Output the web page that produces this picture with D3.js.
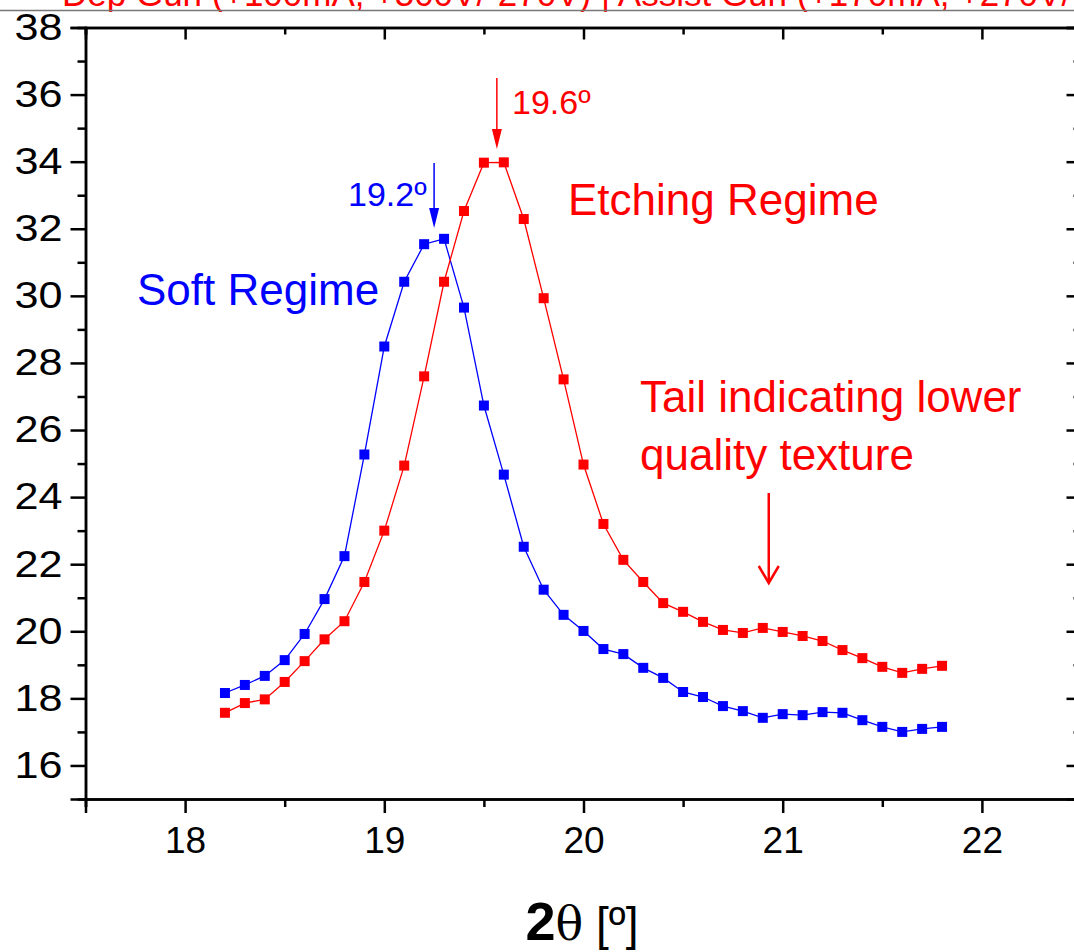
<!DOCTYPE html>
<html>
<head>
<meta charset="utf-8">
<script src="https://cdn.jsdelivr.net/npm/d3@7"></script>
<style>
  body { margin: 0; background: #fff; }
  text { font-family: "Liberation Sans", Arial, sans-serif; }
</style>
</head>
<body>
<svg id="chart" width="1074" height="952"></svg>
<script>
// 2-theta positions (deg)
const twoTheta = [18.2, 18.3, 18.4, 18.5, 18.6, 18.7, 18.8, 18.9, 19.0, 19.1,
  19.2, 19.3, 19.4, 19.5, 19.6, 19.7, 19.8, 19.9, 20.0, 20.1,
  20.2, 20.3, 20.4, 20.5, 20.6, 20.7, 20.8, 20.9, 21.0, 21.1,
  21.2, 21.3, 21.4, 21.5, 21.6, 21.7, 21.8];

// soft regime (blue)
const softVals = [18.16, 18.40, 18.67, 19.14, 19.92, 20.96, 22.24, 25.27, 28.49, 30.42,
  31.54, 31.70, 29.65, 26.73, 24.67, 22.52, 21.24, 20.49, 20.01, 19.47,
  19.32, 18.91, 18.61, 18.19, 18.04, 17.77, 17.62, 17.42, 17.53, 17.50,
  17.59, 17.57, 17.35, 17.15, 17.00, 17.09, 17.15];

// etching regime (red)
const etchVals = [17.57, 17.86, 17.97, 18.49, 19.11, 19.76, 20.30, 21.47, 23.00, 24.94,
  27.60, 30.42, 32.53, 33.97, 33.98, 32.29, 29.93, 27.51, 24.97, 23.20,
  22.13, 21.47, 20.84, 20.58, 20.28, 20.04, 19.95, 20.10, 19.98, 19.86,
  19.71, 19.44, 19.20, 18.94, 18.76, 18.88, 18.97];

const xTicks = [18, 19, 20, 21, 22];
const yTicks = [16, 18, 20, 22, 24, 26, 28, 30, 32, 34, 36, 38];

const svg = d3.select("#chart");

// plot frame
const x = d3.scaleLinear().domain([17.5, 22.5]).range([85.5, 1081.5]);
const y = d3.scaleLinear().domain([15, 38]).range([799, 27.5]);

// title strip (clipped at top of the figure)
svg.append("text")
  .attr("x", 62)
  .attr("y", 6)
  .attr("font-size", "35px")
  .attr("fill", "#ff0000")
  .text("Dep Gun (+100mA, +500V/-270V) | Assist Gun (+170mA, +270V/-270V)");

svg.append("line")
  .attr("x1", 0).attr("x2", 1074)
  .attr("y1", 10.5).attr("y2", 10.5)
  .attr("stroke", "#777")
  .attr("stroke-width", 1.5);

svg.append("rect")
  .attr("x", 0).attr("y", 12).attr("width", 1074).attr("height", 14)
  .attr("fill", "#fff");

// axes
const minorX = d3.range(17.5, 22.51, 0.5).filter(v => Math.abs(v % 1) > 0.1);
const minorY = d3.range(17, 38, 2);

function styleAxis(g) {
  g.select(".domain").attr("stroke-width", 2.5);
  g.selectAll(".tick line").attr("stroke-width", 2.5);
  g.selectAll(".tick text").attr("font-size", "37px").attr("fill", "#000")
    .style("font-family", "Liberation Sans, Arial, sans-serif");
}

// bottom
svg.append("g")
  .attr("transform", "translate(0," + y(15) + ")")
  .call(d3.axisBottom(x).tickValues(xTicks).tickSize(14).tickPadding(14).tickFormat(d3.format("d")))
  .call(styleAxis);
svg.append("g")
  .attr("transform", "translate(0," + y(15) + ")")
  .call(d3.axisBottom(x).tickValues(minorX).tickSize(8).tickFormat(""))
  .call(styleAxis);

// top
svg.append("g")
  .attr("transform", "translate(0," + y(38) + ")")
  .call(d3.axisTop(x).tickValues(xTicks).tickSize(-12).tickFormat(""))
  .call(styleAxis);
svg.append("g")
  .attr("transform", "translate(0," + y(38) + ")")
  .call(d3.axisTop(x).tickValues(minorX).tickSize(-7).tickFormat(""))
  .call(styleAxis);

// left
svg.append("g")
  .attr("transform", "translate(" + x(17.5) + ",0)")
  .call(d3.axisLeft(y).tickValues(yTicks).tickSize(15).tickPadding(8).tickFormat(d3.format("d")))
  .call(styleAxis)
  .call(g => g.selectAll(".tick text")
    .attr("textLength", 48)
    .attr("lengthAdjust", "spacingAndGlyphs"));
svg.append("g")
  .attr("transform", "translate(" + x(17.5) + ",0)")
  .call(d3.axisLeft(y).tickValues(minorY).tickSize(8).tickFormat(""))
  .call(styleAxis);

// right
svg.append("g")
  .attr("transform", "translate(" + x(22.5) + ",0)")
  .call(d3.axisRight(y).tickValues(yTicks).tickSize(-15).tickFormat(""))
  .call(styleAxis);
svg.append("g")
  .attr("transform", "translate(" + x(22.5) + ",0)")
  .call(d3.axisRight(y).tickValues(minorY).tickSize(-8).tickFormat(""))
  .call(styleAxis);

// x axis title
const xt = svg.append("text")
  .attr("x", 582)
  .attr("y", 940)
  .attr("text-anchor", "middle")
  .attr("font-size", "46px");
xt.append("tspan").attr("font-weight", "bold").attr("font-size", "54px").text("2");
xt.append("tspan").style("font-family", "DejaVu Serif, serif").text("θ");
xt.append("tspan").text(" [º]");

// series
const series = [
  {name: "soft", vals: softVals, color: "#0000ff"},
  {name: "etch", vals: etchVals, color: "#ff0000"}
];

const line = d3.line()
  .x(d => x(d.t))
  .y(d => y(d.v));

series.forEach(function(s) {
  const pts = twoTheta.map((t, i) => ({t: t, v: s.vals[i]}));
  svg.append("path")
    .datum(pts)
    .attr("fill", "none")
    .attr("stroke", s.color)
    .attr("stroke-width", 1.3)
    .attr("d", line);
  svg.selectAll(".m-" + s.name)
    .data(pts)
    .join("rect")
    .attr("class", "m-" + s.name)
    .attr("x", d => x(d.t) - 5)
    .attr("y", d => y(d.v) - 5)
    .attr("width", 10)
    .attr("height", 10)
    .attr("fill", s.color);
});

// annotations
function arrowDown(x0, y0, y1, color, filled) {
  svg.append("line")
    .attr("x1", x0).attr("x2", x0)
    .attr("y1", y0).attr("y2", filled ? y1 - 16 : y1)
    .attr("stroke", color)
    .attr("stroke-width", filled ? 1.5 : 2.5);
  if (filled) {
    svg.append("path")
      .attr("d", `M${x0 - 5},${y1 - 20}L${x0 + 5},${y1 - 20}L${x0},${y1}Z`)
      .attr("fill", color);
  } else {
    svg.append("path")
      .attr("d", `M${x0 - 10},${y1 - 17}L${x0},${y1}L${x0 + 10},${y1 - 17}`)
      .attr("fill", "none")
      .attr("stroke", color)
      .attr("stroke-width", 2.5);
  }
}

arrowDown(x(19.25), 163, 228, "#0000ff", true);
arrowDown(x(19.565), 78, 149, "#ff0000", true);
arrowDown(x(20.93), 493, 583, "#ff0000", false);

const notes = [
  {x: 348, y: 206, size: 34, color: "#0000ff", text: "19.2º"},
  {x: 512, y: 114, size: 34, color: "#ff0000", text: "19.6º"},
  {x: 137, y: 305, size: 44, color: "#0000ff", text: "Soft Regime"},
  {x: 568, y: 215, size: 44, color: "#ff0000", text: "Etching Regime"},
  {x: 640, y: 412, size: 44, color: "#ff0000", text: "Tail indicating lower"},
  {x: 640, y: 470, size: 44, color: "#ff0000", text: "quality texture"}
];

svg.selectAll(".note")
  .data(notes)
  .join("text")
  .attr("class", "note")
  .attr("x", d => d.x)
  .attr("y", d => d.y)
  .attr("font-size", d => d.size + "px")
  .attr("fill", d => d.color)
  .text(d => d.text);
</script>
</body>
</html>
